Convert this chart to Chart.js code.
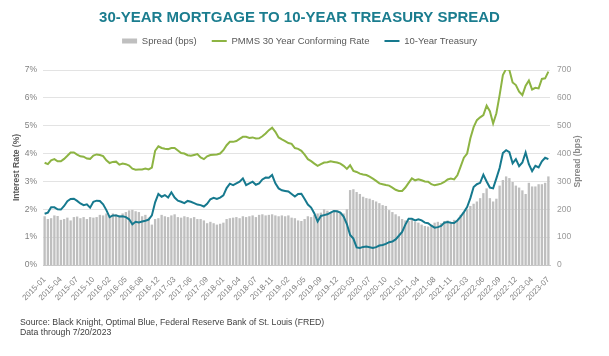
<!DOCTYPE html>
<html><head><meta charset="utf-8">
<script src="https://cdn.jsdelivr.net/npm/chart.js@4/dist/chart.umd.min.js"></script>
<style>
html,body{margin:0;padding:0;background:#fff;}
#wrap{position:relative;width:609px;height:356px;overflow:hidden;}
#c{position:absolute;left:0;top:0;}
#src{position:absolute;left:20px;top:317px;font:8.7px "Liberation Sans",Arial,sans-serif;color:#404040;line-height:10px;white-space:nowrap;}
</style></head><body>
<div id="wrap"><canvas id="c" width="609" height="356"></canvas>
<div id="src">Source: Black Knight, Optimal Blue, Federal Reserve Bank of St. Louis (FRED)<br>Data through 7/20/2023</div></div>
<script>
const tickLabels = ['2015-01','2015-04','2015-07','2015-10','2016-02','2016-05','2016-08','2016-12','2017-03','2017-06','2017-09','2018-01','2018-04','2018-07','2018-11','2019-02','2019-05','2019-09','2019-12','2020-03','2020-07','2020-10','2021-01','2021-04','2021-08','2021-11','2022-03','2022-06','2022-09','2022-12','2023-04','2023-07'];
const pointsPerTick = 5;

const pmmsRate = [
3.67,3.62,3.76,3.80,3.72,3.72,3.81,3.92,4.04,4.04,3.96,3.90,3.89,3.82,3.81,3.93,3.97,3.95,3.91,3.76,3.66,3.70,3.71,3.60,3.64,3.62,3.57,3.46,3.42,3.43,3.43,3.46,3.43,3.50,4.10,4.26,4.20,4.17,4.16,4.20,4.20,4.11,4.02,4.00,3.94,3.92,3.95,3.98,
3.86,3.80,3.90,3.95,3.96,3.97,4.00,4.12,4.30,4.42,4.42,4.45,4.53,4.60,4.60,4.56,4.58,4.54,4.55,4.62,4.72,4.84,4.93,4.78,4.58,4.51,4.45,4.38,4.35,4.20,4.17,4.10,3.96,3.80,3.73,3.64,3.56,3.62,3.68,3.69,3.72,3.70,3.68,3.64,3.56,3.45,3.58,3.38,3.34,3.28,3.25,3.23,3.17,3.10,3.02,2.93,2.90,2.87,2.85,2.78,2.70,2.66,
2.66,2.78,2.95,3.11,3.04,3.08,3.04,3.00,2.99,2.90,2.86,2.89,2.92,2.98,3.07,3.10,3.07,3.22,3.53,3.85,4.00,4.55,4.95,5.20,5.30,5.38,5.72,5.52,5.08,5.45,6.10,6.82,7.04,7.00,6.55,6.46,6.22,6.10,6.44,6.62,6.30,6.36,6.34,6.68,6.70,6.94
];

const treasury10y = [
1.84,1.88,2.07,2.07,2.00,1.99,2.12,2.29,2.37,2.38,2.30,2.21,2.15,2.18,2.06,2.27,2.31,2.30,2.18,1.97,1.72,1.78,1.78,1.74,1.75,1.72,1.64,1.46,1.55,1.53,1.56,1.59,1.63,1.78,2.25,2.55,2.45,2.51,2.42,2.61,2.42,2.31,2.27,2.22,2.30,2.27,2.22,2.17,
2.15,2.10,2.20,2.36,2.41,2.37,2.42,2.50,2.76,2.92,2.87,2.93,2.99,3.11,2.87,2.93,2.99,2.88,2.93,3.07,3.14,3.13,3.23,2.93,2.75,2.68,2.66,2.64,2.55,2.46,2.55,2.56,2.37,2.17,2.06,1.85,1.56,1.76,1.79,1.82,1.88,1.94,1.93,1.88,1.74,1.47,1.08,0.95,0.63,0.61,0.65,0.66,0.64,0.61,0.64,0.70,0.72,0.76,0.82,0.84,0.92,1.05,
1.19,1.45,1.66,1.66,1.60,1.64,1.60,1.52,1.50,1.41,1.34,1.36,1.40,1.52,1.54,1.52,1.51,1.60,1.74,1.90,2.08,2.40,2.80,2.90,2.95,3.24,3.00,2.78,2.75,3.11,3.48,4.02,4.12,4.05,3.65,3.80,3.55,3.68,4.04,3.62,3.37,3.56,3.50,3.72,3.85,3.80
];

const spreadBps = [
175,165,168,178,176,162,165,170,160,172,174,168,172,165,172,170,172,180,178,185,175,185,182,178,185,190,196,198,193,190,175,180,170,145,165,168,180,175,172,178,182,172,170,175,172,168,172,165,
165,160,150,155,150,145,148,152,165,168,170,172,168,175,172,175,178,172,180,182,178,180,182,178,175,178,175,178,170,168,160,158,165,175,172,180,185,188,200,195,190,192,195,188,185,200,269,272,262,255,245,240,238,233,228,222,215,212,197,190,182,175,
165,160,158,162,155,152,145,140,138,145,152,155,150,158,160,155,162,158,180,190,200,212,220,228,240,258,275,240,228,238,285,305,318,312,298,285,278,268,255,295,282,282,290,290,295,318
];

const categories = spreadBps.map((_, i) => (i % pointsPerTick === 0 ? (tickLabels[i / pointsPerTick] || '') : ''));

const FONT = '"Liberation Sans", Arial, sans-serif';

const legendSpace = {
  id: 'legendSpace',
  beforeInit(chart) {
    const fit = chart.legend.fit;
    chart.legend.fit = function () { fit.bind(chart.legend)(); this.height += 14.25; };
  }
};

const rightTitle = {
  id: 'rightTitle',
  afterDraw(chart) {
    const { ctx, chartArea } = chart;
    const s = chart.scales.y2;
    ctx.save();
    ctx.translate(s.right - 21, (chartArea.top + chartArea.bottom) / 2 - 6);
    ctx.rotate(-Math.PI / 2);
    ctx.font = 'bold 8.5px ' + FONT;
    ctx.fillStyle = '#8a8a8a';
    ctx.textAlign = 'center';
    ctx.textBaseline = 'middle';
    ctx.fillText('Spread (bps)', 0, 0);
    ctx.restore();
  }
};

new Chart(document.getElementById('c'), {
  data: {
    labels: categories,
    datasets: [
      { type: 'bar', label: 'Spread (bps)', data: spreadBps, yAxisID: 'y2', order: 2,
        backgroundColor: '#bfbfbf', borderWidth: 0, barPercentage: 0.72, categoryPercentage: 1,
        pointStyle: 'rect' },
      { type: 'line', label: 'PMMS 30 Year Conforming Rate', data: pmmsRate, yAxisID: 'y', order: 1,
        borderColor: '#8db443', backgroundColor: '#8db443', borderWidth: 2, pointRadius: 0,
        tension: 0, pointStyle: 'line' },
      { type: 'line', label: '10-Year Treasury', data: treasury10y, yAxisID: 'y', order: 0,
        borderColor: '#16798e', backgroundColor: '#16798e', borderWidth: 2, pointRadius: 0,
        tension: 0, pointStyle: 'line' }
    ]
  },
  options: {
    responsive: false,
    animation: false,
    layout: { padding: { left: 0, right: 10, top: 0, bottom: 51 } },
    plugins: {
      title: {
        display: true,
        text: '30-YEAR MORTGAGE TO 10-YEAR TREASURY SPREAD',
        color: '#1b7d8f',
        font: { family: FONT, size: 15, weight: 'bold' },
        padding: { top: 9, bottom: -5.75 }
      },
      legend: {
        position: 'top',
        labels: {
          usePointStyle: true, pointStyleWidth: 15, boxHeight: 5,
          padding: 15, color: '#595959',
          font: { family: FONT, size: 9.5 },
          sort: (a, b) => a.datasetIndex - b.datasetIndex
        }
      },
      tooltip: { enabled: false }
    },
    scales: {
      x: {
        grid: { display: false },
        border: { display: true, color: '#c8c8c8' },
        ticks: { autoSkip: false, minRotation: 45, maxRotation: 45, padding: 2,
          color: '#808080', font: { family: FONT, size: 8 } },
        afterFit(s) { s.height = 40; }
      },
      y: {
        position: 'left', min: 0, max: 7,
        grid: { color: '#e3e3e3', drawTicks: false },
        border: { display: false },
        ticks: { stepSize: 1, padding: 6, color: '#808080', font: { family: FONT, size: 8.5 },
          callback: v => v + '%' },
        title: { display: true, text: 'Interest Rate (%)', color: '#595959',
          font: { family: FONT, size: 8.5, weight: 'bold' }, padding: { top: 12, bottom: 0 } },
        afterFit(s) { s.width = 43; }
      },
      y2: {
        position: 'right', min: 0, max: 700,
        grid: { display: false, drawTicks: false },
        border: { display: false },
        ticks: { stepSize: 100, padding: 7, color: '#999999', font: { family: FONT, size: 8.5 } },
        afterFit(s) { s.width = 49; }
      }
    }
  },
  plugins: [legendSpace, rightTitle]
});
</script>
</body></html>
